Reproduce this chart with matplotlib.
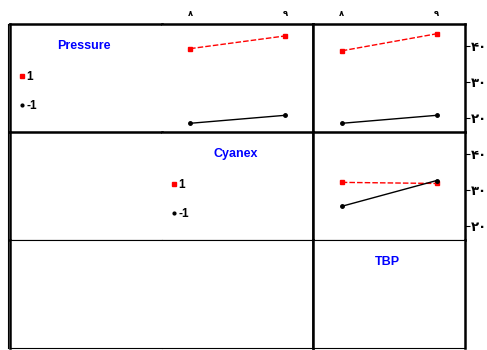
import matplotlib
matplotlib.use('Agg')
import matplotlib.pyplot as plt
from matplotlib.lines import Line2D

plt.rcParams['font.family'] = ['DejaVu Sans']

FACTORS = ['Pressure', 'Cyanex', 'TBP']
LEVELS = [8, 9]
LEVEL_LABELS = ['۸', '۹']
Y_TICKS = [20, 30, 40]
Y_TICK_LABELS = ['۲۰', '۳۰', '۴۰']
TRACE_LABELS = ['1', '-1']

# mean response at the two x levels, for trace level 1 (hi) and -1 (lo)
pressure_cyanex_hi = [39.2, 42.7]
pressure_cyanex_lo = [18.6, 20.8]
pressure_tbp_hi = [38.6, 43.3]
pressure_tbp_lo = [18.6, 20.8]
cyanex_tbp_hi = [32.1, 31.8]
cyanex_tbp_lo = [25.5, 32.6]

PANELS = {
    (0, 1): (pressure_cyanex_hi, pressure_cyanex_lo),
    (0, 2): (pressure_tbp_hi, pressure_tbp_lo),
    (1, 2): (cyanex_tbp_hi, cyanex_tbp_lo),
}

RED = '#ff0000'
BLUE = '#0000ff'

fig = plt.figure(figsize=(4.87, 3.5), dpi=100)
gs = fig.add_gridspec(3, 3, left=10/487, right=465/487, top=1-24/350, bottom=2/350,
                      wspace=0, hspace=0)

axes = [[fig.add_subplot(gs[r, c]) for c in range(3)] for r in range(3)]

for r in range(3):
    for c in range(3):
        ax = axes[r][c]
        ax.set_xlim(7.7, 9.3)
        ax.set_ylim(16.2, 46.0)
        ax.set_xticks([])
        ax.set_yticks([])
        for s in ax.spines.values():
            s.set_linewidth(0.8)
        if r <= 1:
            ax.spines['top'].set_linewidth(1.8)
        if c == 0:
            ax.spines['left'].set_linewidth(1.8)
        if c >= 1:
            ax.spines['right'].set_linewidth(1.8)
            ax.spines['left'].set_linewidth(1.8)

# no divider between the first two columns
for r in range(3):
    axes[r][0].spines['right'].set_visible(False)
    axes[r][1].spines['left'].set_visible(False)

# interaction panels
for (r, c), (hi, lo) in PANELS.items():
    ax = axes[r][c]
    ax.plot(LEVELS, hi, color=RED, ls='--', lw=1.0, marker='s', ms=3, dashes=(4, 1.5))
    ax.plot(LEVELS, lo, color='black', ls='-', lw=1.0, marker='o', ms=2.5)

# top tick labels
for c in (1, 2):
    ax = axes[0][c]
    ax.xaxis.tick_top()
    ax.set_xticks(LEVELS)
    ax.set_xticklabels(LEVEL_LABELS, fontsize=6, fontweight='bold')
    ax.tick_params(axis='x', length=0, pad=4)

# right tick labels
for r in (0, 1):
    ax = axes[r][2]
    ax.yaxis.tick_right()
    ax.set_yticks(Y_TICKS)
    ax.set_yticklabels(Y_TICK_LABELS, fontsize=9.5, fontweight='bold')
    ax.tick_params(axis='y', length=3.5, width=0.8, pad=1, direction='out')

# diagonal: factor names and legends
for i, name in enumerate(FACTORS):
    ax = axes[i][i]
    ax.text(0.49, 0.80, name, transform=ax.transAxes, color=BLUE, fontsize=9,
            fontweight='bold', ha='center', va='center', family='Liberation Sans')
    if i < 2:
        handles = [Line2D([], [], color=RED, marker='s', ls='none', ms=2.5),
                   Line2D([], [], color='black', marker='o', ls='none', ms=2)]
        ax.legend(handles, TRACE_LABELS, loc='upper left', bbox_to_anchor=(0.0, 0.66),
                  frameon=False, handlelength=0.3, handletextpad=0.2,
                  labelspacing=1.4,
                  prop={'family': 'Liberation Sans', 'size': 8.5, 'weight': 'bold'})

# outer double line on the left
fig.add_artist(Line2D([7.5/487, 7.5/487], [2/350, 1-24/350], color='black', lw=0.8))

fig.savefig('out.png', dpi=100)
